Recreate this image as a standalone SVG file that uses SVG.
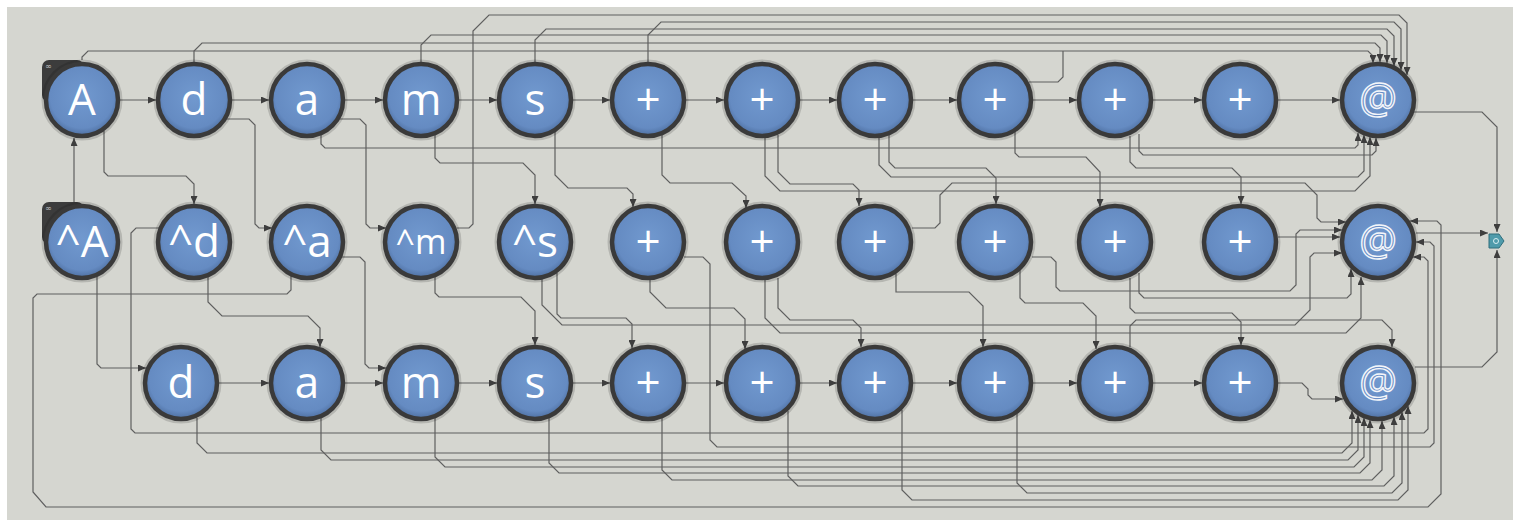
<svg xmlns="http://www.w3.org/2000/svg" width="1513" height="527" viewBox="0 0 1513 527">
<style>
.w{fill:none;stroke:#5f5f5f;stroke-width:1.2;marker-end:url(#ah)}
.wn{fill:none;stroke:#5f5f5f;stroke-width:1.2}
.n circle.b{fill:url(#g);stroke:#3a3a3a;stroke-width:4.5}
.n circle.h{fill:none;stroke:#000;stroke-opacity:.15;stroke-width:3}
.n text{font-family:"Open Sans","DejaVu Sans",sans-serif;font-size:44px;fill:#fff;text-anchor:middle}
.n text.at{fill:#6a8fc6;stroke:#f4f6fa;stroke-width:1.4;font-size:42px}
.badge{fill:#3c3c3c}
.n text.bt{font-family:"DejaVu Sans",sans-serif;font-size:8px;fill:#bdbdbd;text-anchor:start}
</style>
<defs>
<radialGradient id="g" cx="50%" cy="45%" r="55%">
<stop offset="0" stop-color="#7199cf"/>
<stop offset="0.8" stop-color="#658bc2"/>
<stop offset="1" stop-color="#4d6e9f"/>
</radialGradient>
<marker id="ah" markerWidth="8" markerHeight="7" refX="8" refY="3.5" orient="auto" markerUnits="userSpaceOnUse">
<path d="M0,0 L8,3.5 L0,7 z" fill="#3e3e3e"/>
</marker>
</defs>
<rect x="0" y="0" width="1513" height="527" fill="#ffffff"/>
<rect x="7" y="7" width="1506" height="513" fill="#d5d6d0"/>

<g id="connectors">
<path class="w" d="M120,100 H156"/>
<path class="w" d="M232,100 H269"/>
<path class="w" d="M345,100 H383"/>
<path class="w" d="M459,100 H497"/>
<path class="w" d="M573,100 H610"/>
<path class="w" d="M686,100 H724"/>
<path class="w" d="M800,100 H837"/>
<path class="w" d="M913,100 H957"/>
<path class="w" d="M1033,100 H1077"/>
<path class="w" d="M1153,100 H1202"/>
<path class="w" d="M1278,100 H1340"/>
<path class="w" d="M219,383 H269"/>
<path class="w" d="M345,383 H383"/>
<path class="w" d="M459,383 H497"/>
<path class="w" d="M573,383 H610"/>
<path class="w" d="M686,383 H724"/>
<path class="w" d="M800,383 H837"/>
<path class="w" d="M913,383 H957"/>
<path class="w" d="M1033,383 H1077"/>
<path class="w" d="M1153,383 H1202"/>
<path class="w" d="M1278,383 H1302 L1308,389 V395 L1312,399 H1343"/>
<path class="w" d="M74,205 V138"/>
<path class="w" d="M104,131 V172 L108,176 H186 L194,184 V204"/>
<path class="w" d="M227,119 H249 L255,125 V224 L259,228 H272"/>
<path class="w" d="M340,119 H360 L366,125 V224 L370,228 H386"/>
<path class="w" d="M321,135 V144 L325,148 H1355 L1358,145 V133"/>
<path class="w" d="M435,135 V158 L440,163 H523 L535,175 V204"/>
<path class="w" d="M457,228 H469 L473,224 V31 L489,15 H1399 L1407,23 V75"/>
<path class="w" d="M648,62 V35 L661,22 H1394 L1401,29 V70"/>
<path class="w" d="M535,62 V40 L546,29 H1387 L1394,36 V66"/>
<path class="w" d="M421,62 V45 L431,35 H1381 L1387,41 V63"/>
<path class="w" d="M194,62 V51 L202,43 H1375 L1380,48 V62"/>
<path class="w" d="M82,60 V57 L88,51 H1368 L1373,56 V63"/>
<path class="wn" d="M1029,82 H1058 L1063,77 V51"/>
<path class="w" d="M97,277 V364 L101,368 H146"/>
<path class="w" d="M159,228 H136 L131,233 V429 L135,433 H1424 L1428,429 V261 L1424,257 H1413"/>
<path class="w" d="M684,257 H703 L710,264 V440 L717,447 H1430 L1434,443 V246 L1430,242 H1416"/>
<path class="w" d="M291,276 V290 L287,294 H37 L33,298 V492 L46,507 H1428 L1441,494 V225 L1437,221 H1410"/>
<path class="w" d="M208,277 V302 L222,316 H308 L320,328 V347"/>
<path class="w" d="M342,257 H360 L365,262 V364 L369,368 H386"/>
<path class="w" d="M435,277 V293 L439,297 H521 L535,311 V345"/>
<path class="w" d="M557,273 V314 L561,318 H626 L632,324 V348"/>
<path class="w" d="M542,279 V305 L562,325 H1295 L1310,310 V257 L1314,253 H1342"/>
<path class="w" d="M650,280 V292 L666,308 H734 L745,319 V349"/>
<path class="w" d="M765,280 V318 L780,333 H1346 L1361,318 V277"/>
<path class="w" d="M778,278 V308 L790,320 H853 L861,328 V347"/>
<path class="w" d="M896,274 V292 H969 L983,306 V347"/>
<path class="w" d="M1020,270 V298 L1025,303 H1083 L1096,316 V349"/>
<path class="w" d="M1032,257 H1051 L1056,262 V287 L1060,291 H1290 L1296,285 V234 L1300,230 H1342"/>
<path class="w" d="M912,228 H935 L940,223 V195 L952,183 H1305 L1317,195 V218 L1321,222 H1346"/>
<path class="w" d="M1139,273 V293 L1144,298 H1347 L1351,294 V269"/>
<path class="w" d="M1130,278 V308 L1135,313 H1232 L1241,322 V345"/>
<path class="w" d="M1130,347 V326 L1136,320 H1382 L1392,330 V347"/>
<path class="w" d="M1278,237 H1340"/>
<path class="w" d="M555,132 V175 L568,188 H627 L633,194 V207"/>
<path class="w" d="M662,135 V175 L670,183 H732 L746,196 V208"/>
<path class="w" d="M765,136 V176 L780,191 H1355 L1370,176 V137"/>
<path class="w" d="M778,135 V172 L790,184 H853 L859,190 V206"/>
<path class="w" d="M879,138 V165 L891,177 H1358 L1364,171 V135"/>
<path class="w" d="M889,135 V162 L895,168 H986 L996,178 V204"/>
<path class="w" d="M1015,132 V153 L1019,157 H1086 L1100,172 V207"/>
<path class="w" d="M1130,136 V162 L1136,168 H1232 L1241,177 V204"/>
<path class="w" d="M1139,134 V151 L1143,155 H1372 L1376,151 V138"/>
<path class="w" d="M197,418 V443 L207,453 H1342 L1352,443 V411"/>
<path class="w" d="M321,418 V450 L331,460 H1348 L1358,450 V415"/>
<path class="w" d="M435,418 V457 L445,467 H1354 L1364,457 V418"/>
<path class="w" d="M549,418 V463 L559,473 H1360 L1370,463 V420"/>
<path class="w" d="M662,418 V470 L672,480 H1372 L1382,470 V421"/>
<path class="w" d="M788,411 V476 L798,486 H1384 L1394,476 V417"/>
<path class="w" d="M1017,414 V483 L1027,493 H1392 L1402,483 V412"/>
<path class="w" d="M902,410 V490 L912,500 H1398 L1408,490 V406"/>
<path class="w" d="M1414,112 H1482 L1497,127 V232"/>
<path class="w" d="M1416,233 H1488"/>
<path class="w" d="M1415,367 H1482 L1497,352 V250"/>
</g>

<g id="r1_A" class="n"><rect class="badge" x="42" y="60" width="42" height="42" rx="7"/><text class="bt" x="45" y="69">∞</text><circle class="h" cx="82" cy="100" r="39"/><circle class="b" cx="82" cy="100" r="36"/><text x="82" y="115">A</text></g>
<g id="r1_d" class="n"><circle class="h" cx="194" cy="100" r="39"/><circle class="b" cx="194" cy="100" r="36"/><text x="194" y="115">d</text></g>
<g id="r1_a" class="n"><circle class="h" cx="307" cy="100" r="39"/><circle class="b" cx="307" cy="100" r="36"/><text x="307" y="115">a</text></g>
<g id="r1_m" class="n"><circle class="h" cx="421" cy="100" r="39"/><circle class="b" cx="421" cy="100" r="36"/><text x="421" y="115">m</text></g>
<g id="r1_s" class="n"><circle class="h" cx="535" cy="100" r="39"/><circle class="b" cx="535" cy="100" r="36"/><text x="535" y="115">s</text></g>
<g id="r1_p1" class="n"><circle class="h" cx="648" cy="100" r="39"/><circle class="b" cx="648" cy="100" r="36"/><text x="648" y="115">+</text></g>
<g id="r1_p2" class="n"><circle class="h" cx="762" cy="100" r="39"/><circle class="b" cx="762" cy="100" r="36"/><text x="762" y="115">+</text></g>
<g id="r1_p3" class="n"><circle class="h" cx="875" cy="100" r="39"/><circle class="b" cx="875" cy="100" r="36"/><text x="875" y="115">+</text></g>
<g id="r1_p4" class="n"><circle class="h" cx="995" cy="100" r="39"/><circle class="b" cx="995" cy="100" r="36"/><text x="995" y="115">+</text></g>
<g id="r1_p5" class="n"><circle class="h" cx="1115" cy="100" r="39"/><circle class="b" cx="1115" cy="100" r="36"/><text x="1115" y="115">+</text></g>
<g id="r1_p6" class="n"><circle class="h" cx="1240" cy="100" r="39"/><circle class="b" cx="1240" cy="100" r="36"/><text x="1240" y="115">+</text></g>
<g id="r1_at" class="n"><circle class="h" cx="1378" cy="100" r="39"/><circle class="b" cx="1378" cy="100" r="36"/><text class="at" x="1378" y="113">@</text></g>

<g id="r2_A" class="n"><rect class="badge" x="42" y="202" width="42" height="42" rx="7"/><text class="bt" x="45" y="211">∞</text><circle class="h" cx="82" cy="242" r="39"/><circle class="b" cx="82" cy="242" r="36"/><text x="82" y="257">^A</text></g>
<g id="r2_d" class="n"><circle class="h" cx="194" cy="242" r="39"/><circle class="b" cx="194" cy="242" r="36"/><text x="194" y="257">^d</text></g>
<g id="r2_a" class="n"><circle class="h" cx="307" cy="242" r="39"/><circle class="b" cx="307" cy="242" r="36"/><text x="307" y="257">^a</text></g>
<g id="r2_m" class="n"><circle class="h" cx="421" cy="242" r="39"/><circle class="b" cx="421" cy="242" r="36"/><text x="421" y="254" style="font-size:34px">^m</text></g>
<g id="r2_s" class="n"><circle class="h" cx="535" cy="242" r="39"/><circle class="b" cx="535" cy="242" r="36"/><text x="535" y="257">^s</text></g>
<g id="r2_p1" class="n"><circle class="h" cx="648" cy="242" r="39"/><circle class="b" cx="648" cy="242" r="36"/><text x="648" y="257">+</text></g>
<g id="r2_p2" class="n"><circle class="h" cx="762" cy="242" r="39"/><circle class="b" cx="762" cy="242" r="36"/><text x="762" y="257">+</text></g>
<g id="r2_p3" class="n"><circle class="h" cx="875" cy="242" r="39"/><circle class="b" cx="875" cy="242" r="36"/><text x="875" y="257">+</text></g>
<g id="r2_p4" class="n"><circle class="h" cx="995" cy="242" r="39"/><circle class="b" cx="995" cy="242" r="36"/><text x="995" y="257">+</text></g>
<g id="r2_p5" class="n"><circle class="h" cx="1115" cy="242" r="39"/><circle class="b" cx="1115" cy="242" r="36"/><text x="1115" y="257">+</text></g>
<g id="r2_p6" class="n"><circle class="h" cx="1240" cy="242" r="39"/><circle class="b" cx="1240" cy="242" r="36"/><text x="1240" y="257">+</text></g>
<g id="r2_at" class="n"><circle class="h" cx="1378" cy="242" r="39"/><circle class="b" cx="1378" cy="242" r="36"/><text class="at" x="1378" y="255">@</text></g>

<g id="r3_d" class="n"><circle class="h" cx="181" cy="383" r="39"/><circle class="b" cx="181" cy="383" r="36"/><text x="181" y="398">d</text></g>
<g id="r3_a" class="n"><circle class="h" cx="307" cy="383" r="39"/><circle class="b" cx="307" cy="383" r="36"/><text x="307" y="398">a</text></g>
<g id="r3_m" class="n"><circle class="h" cx="421" cy="383" r="39"/><circle class="b" cx="421" cy="383" r="36"/><text x="421" y="398">m</text></g>
<g id="r3_s" class="n"><circle class="h" cx="535" cy="383" r="39"/><circle class="b" cx="535" cy="383" r="36"/><text x="535" y="398">s</text></g>
<g id="r3_p1" class="n"><circle class="h" cx="648" cy="383" r="39"/><circle class="b" cx="648" cy="383" r="36"/><text x="648" y="398">+</text></g>
<g id="r3_p2" class="n"><circle class="h" cx="762" cy="383" r="39"/><circle class="b" cx="762" cy="383" r="36"/><text x="762" y="398">+</text></g>
<g id="r3_p3" class="n"><circle class="h" cx="875" cy="383" r="39"/><circle class="b" cx="875" cy="383" r="36"/><text x="875" y="398">+</text></g>
<g id="r3_p4" class="n"><circle class="h" cx="995" cy="383" r="39"/><circle class="b" cx="995" cy="383" r="36"/><text x="995" y="398">+</text></g>
<g id="r3_p5" class="n"><circle class="h" cx="1115" cy="383" r="39"/><circle class="b" cx="1115" cy="383" r="36"/><text x="1115" y="398">+</text></g>
<g id="r3_p6" class="n"><circle class="h" cx="1240" cy="383" r="39"/><circle class="b" cx="1240" cy="383" r="36"/><text x="1240" y="398">+</text></g>
<g id="r3_at" class="n"><circle class="h" cx="1378" cy="383" r="39"/><circle class="b" cx="1378" cy="383" r="36"/><text class="at" x="1378" y="396">@</text></g>

<g id="out"><path d="M1489,234 H1499 L1504,241 L1499,248 H1489 Z" fill="#4f9bab" stroke="#2f6e7c" stroke-width="1"/><circle cx="1496" cy="241" r="2.5" fill="none" stroke="#d8eef2" stroke-width="1"/></g>
</svg>
